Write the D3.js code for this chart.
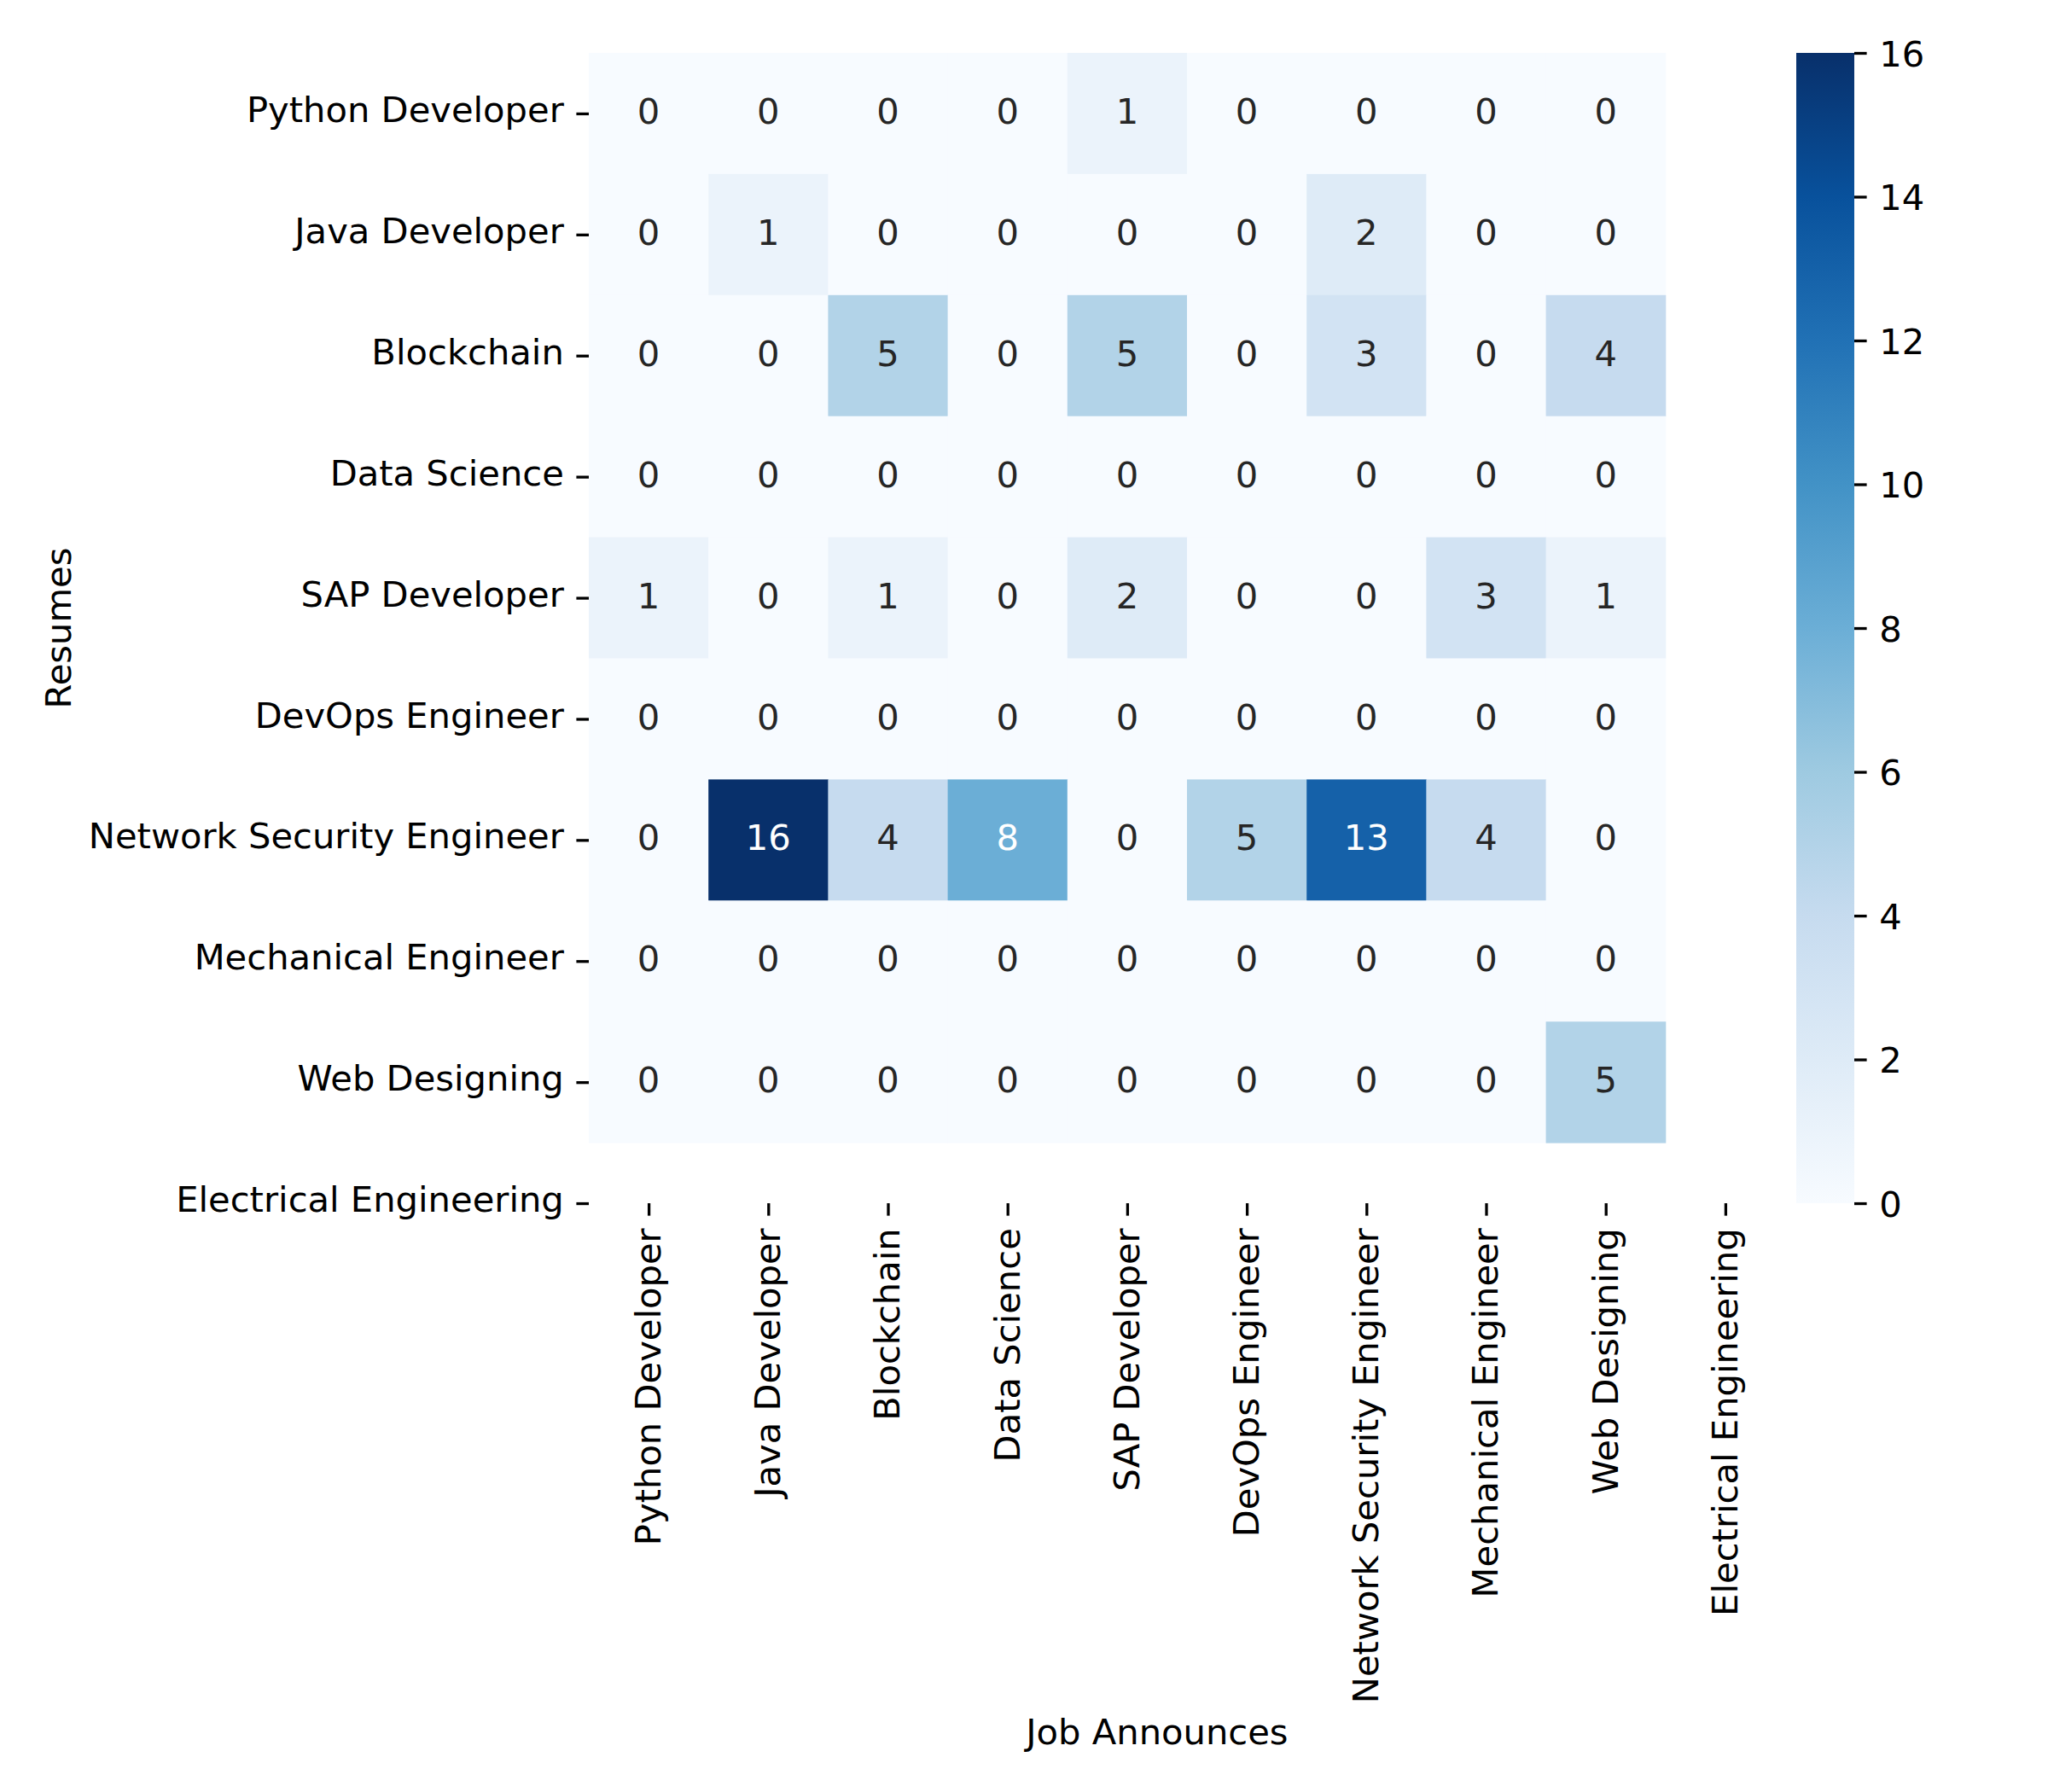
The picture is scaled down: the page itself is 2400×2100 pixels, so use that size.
<!DOCTYPE html>
<html>
<head>
<meta charset="utf-8">
<script src="https://cdn.jsdelivr.net/npm/d3@7"></script>
<style>
  html, body { margin: 0; padding: 0; background: #fff; }
  svg { display: block; }
  text { font-family: "DejaVu Sans", sans-serif; }
</style>
</head>
<body>
<svg id="chart" width="2400" height="2100"></svg>
<script>
// ---- data ----
const resumeLabels = ["Python Developer", "Java Developer", "Blockchain", "Data Science",
  "SAP Developer", "DevOps Engineer", "Network Security Engineer", "Mechanical Engineer",
  "Web Designing", "Electrical Engineering"];
const jobLabels = ["Python Developer", "Java Developer", "Blockchain", "Data Science",
  "SAP Developer", "DevOps Engineer", "Network Security Engineer", "Mechanical Engineer",
  "Web Designing", "Electrical Engineering"];
const rowPython      = [0, 0, 0, 0, 1, 0, 0, 0, 0];
const rowJava        = [0, 1, 0, 0, 0, 0, 2, 0, 0];
const rowBlockchain  = [0, 0, 5, 0, 5, 0, 3, 0, 4];
const rowDataScience = [0, 0, 0, 0, 0, 0, 0, 0, 0];
const rowSAP         = [1, 0, 1, 0, 2, 0, 0, 3, 1];
const rowDevOps      = [0, 0, 0, 0, 0, 0, 0, 0, 0];
const rowNetSec      = [0, 16, 4, 8, 0, 5, 13, 4, 0];
const rowMechanical  = [0, 0, 0, 0, 0, 0, 0, 0, 0];
const rowWeb         = [0, 0, 0, 0, 0, 0, 0, 0, 5];
const matrix = [rowPython, rowJava, rowBlockchain, rowDataScience, rowSAP,
  rowDevOps, rowNetSec, rowMechanical, rowWeb];
const cbarTicks = [0, 2, 4, 6, 8, 10, 12, 14, 16];
const bluesStops = ["#f7fbff", "#deebf7", "#c6dbef", "#9ecae1", "#6baed6",
  "#4292c6", "#2171b5", "#08519c", "#08306b"];

// ---- layout ----
const FS = 41.67;
const tickLen = 14.6, tickPad = 14.6, tickW = 3.3;
const plotLeft = 690, plotTop = 62;
const cellW = 140.2, cellH = 141.9;

const svg = d3.select("#chart");

const x = d3.scaleLinear().domain([0, 9.5]).range([plotLeft, plotLeft + 9.5 * cellW]);
const y = d3.scaleLinear().domain([0, 9.5]).range([plotTop, plotTop + 9.5 * cellH]);

const vmin = 0, vmax = 16;
const color = d3.scaleLinear()
  .domain(bluesStops.map((_, i) => vmin + (vmax - vmin) * i / (bluesStops.length - 1)))
  .range(bluesStops)
  .interpolate(d3.interpolateRgb)
  .clamp(true);

function luminance(c) {
  const rgb = d3.rgb(c);
  const f = v => { v /= 255; return v <= 0.03928 ? v / 12.92 : Math.pow((v + 0.055) / 1.055, 2.4); };
  return 0.2126 * f(rgb.r) + 0.7152 * f(rgb.g) + 0.0722 * f(rgb.b);
}

const cells = [];
matrix.forEach((row, i) => row.forEach((v, j) => cells.push({ i, j, v })));

const g = svg.append("g");
g.selectAll("rect.cell").data(cells).enter().append("rect")
  .attr("class", "cell")
  .attr("x", d => x(d.j))
  .attr("y", d => y(d.i))
  .attr("width", d => x(d.j + 1) - x(d.j) + 0.5)
  .attr("height", d => y(d.i + 1) - y(d.i) + 0.5)
  .attr("fill", d => color(d.v));

g.selectAll("text.annot").data(cells).enter().append("text")
  .attr("class", "annot")
  .attr("x", d => x(d.j + 0.5))
  .attr("y", d => y(d.i + 0.5))
  .attr("dy", "0.29em")
  .attr("text-anchor", "middle")
  .attr("font-size", FS)
  .attr("fill", d => luminance(color(d.v)) > 0.408 ? "#262626" : "#ffffff")
  .text(d => d.v);

// ---- axes ----
const tickVals = d3.range(10).map(k => k + 0.5);

const xAxis = d3.axisBottom(x)
  .tickValues(tickVals)
  .tickFormat((d, k) => jobLabels[k])
  .tickSize(tickLen).tickPadding(tickPad);
const xg = svg.append("g").attr("transform", `translate(0,${y(9.5)})`).call(xAxis);
xg.select(".domain").remove();
xg.selectAll(".tick line").attr("stroke", "#000").attr("stroke-width", tickW);
xg.selectAll(".tick text")
  .attr("font-size", FS).attr("font-family", "DejaVu Sans, sans-serif").attr("fill", "#000")
  .attr("text-anchor", "end")
  .attr("transform", "rotate(-90)")
  .attr("x", -(tickLen + tickPad))
  .attr("y", 0)
  .attr("dy", "0.32em");

const yAxis = d3.axisLeft(y)
  .tickValues(tickVals)
  .tickFormat((d, k) => resumeLabels[k])
  .tickSize(tickLen).tickPadding(tickPad);
const yg = svg.append("g").attr("transform", `translate(${plotLeft},0)`).call(yAxis);
yg.select(".domain").remove();
yg.selectAll(".tick line").attr("stroke", "#000").attr("stroke-width", tickW);
yg.selectAll(".tick text")
  .attr("font-size", FS).attr("font-family", "DejaVu Sans, sans-serif").attr("fill", "#000")
  .attr("dy", "0.23em");

// axis labels
svg.append("text")
  .attr("x", (x(0) + x(9.5)) / 2)
  .attr("y", 2044)
  .attr("text-anchor", "middle")
  .attr("font-size", FS)
  .attr("fill", "#000")
  .text("Job Announces");

svg.append("text")
  .attr("transform", `translate(83,${(y(0) + y(9.5)) / 2}) rotate(-90)`)
  .attr("text-anchor", "middle")
  .attr("font-size", FS)
  .attr("fill", "#000")
  .text("Resumes");

// ---- colorbar ----
const cbX = 2105, cbW = 68;
const cbY = d3.scaleLinear().domain([vmin, vmax]).range([y(9.5), plotTop]);
const defs = svg.append("defs");
const grad = defs.append("linearGradient").attr("id", "cbgrad")
  .attr("x1", 0).attr("y1", 1).attr("x2", 0).attr("y2", 0);
bluesStops.forEach((c, i) => {
  grad.append("stop").attr("offset", i / (bluesStops.length - 1)).attr("stop-color", c);
});
svg.append("rect")
  .attr("x", cbX).attr("y", cbY(vmax))
  .attr("width", cbW).attr("height", cbY(vmin) - cbY(vmax))
  .attr("fill", "url(#cbgrad)");

const cAxis = d3.axisRight(cbY).tickValues(cbarTicks).tickFormat(d3.format("d"))
  .tickSize(tickLen).tickPadding(tickPad);
const cg = svg.append("g").attr("transform", `translate(${cbX + cbW},0)`).call(cAxis);
cg.select(".domain").remove();
cg.selectAll(".tick line").attr("stroke", "#000").attr("stroke-width", tickW);
cg.selectAll(".tick text")
  .attr("font-size", FS).attr("font-family", "DejaVu Sans, sans-serif").attr("fill", "#000")
  .attr("dy", "0.365em");
</script>
</body>
</html>
